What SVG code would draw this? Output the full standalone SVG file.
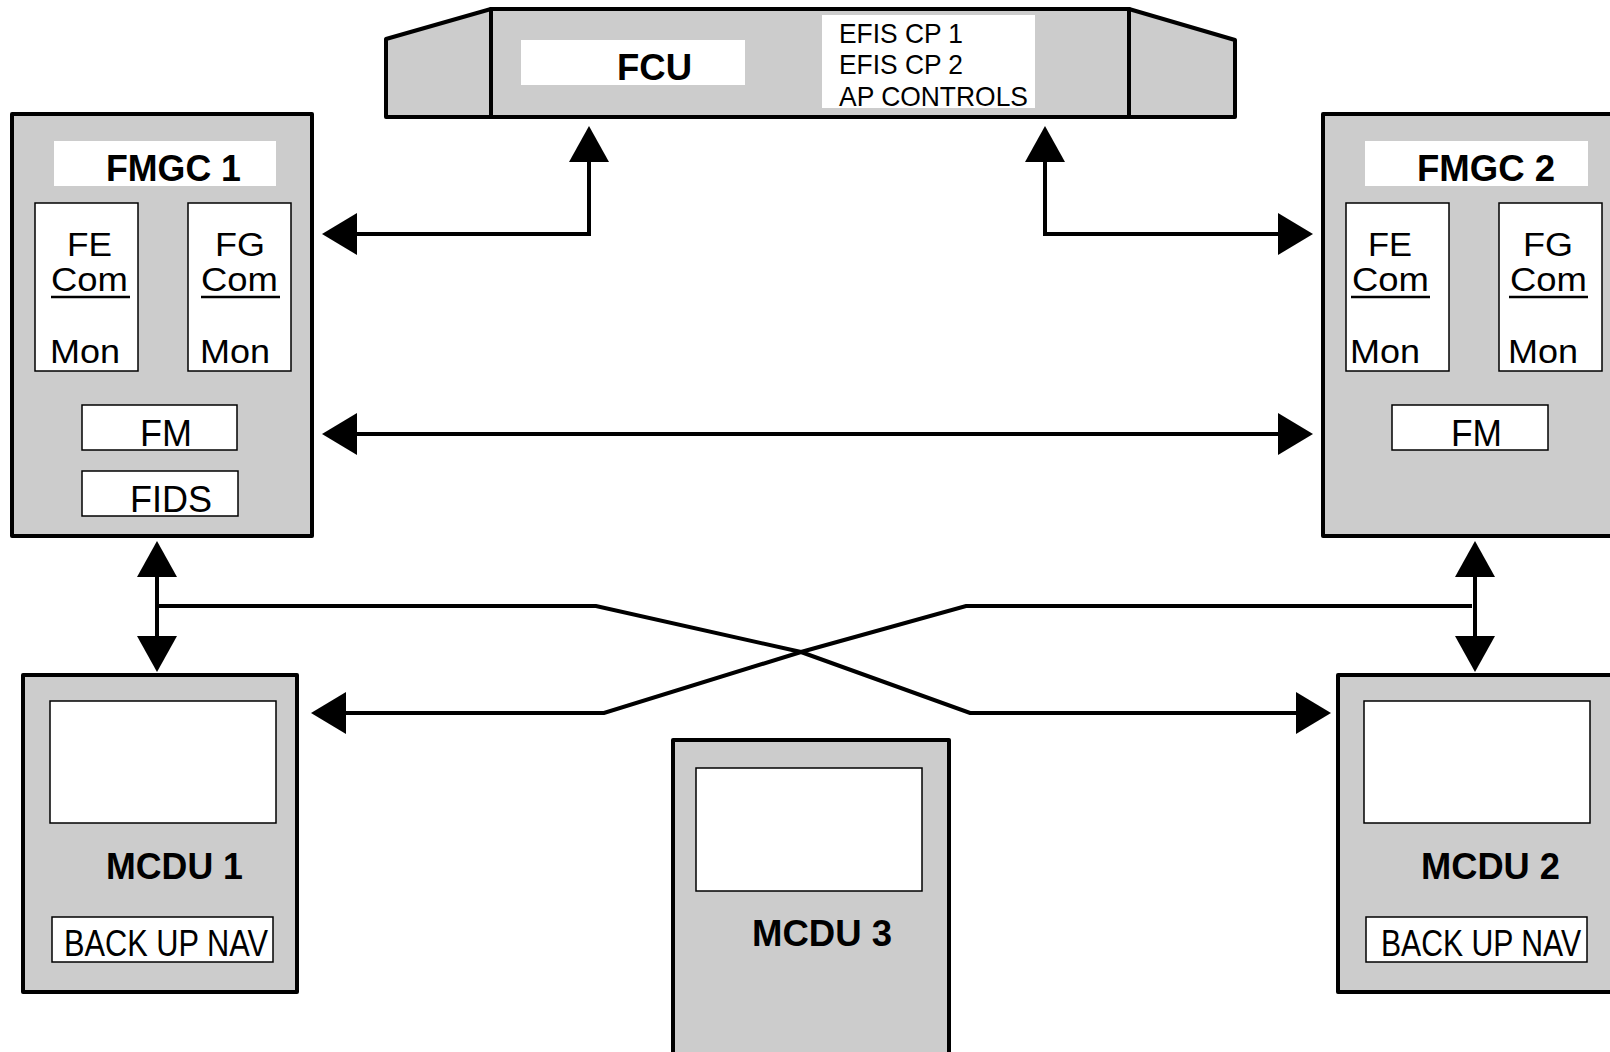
<svg xmlns="http://www.w3.org/2000/svg" width="1610" height="1052" viewBox="0 0 1610 1052">
<defs>
<style>
.unit{fill:#cccccc;stroke:#000;stroke-width:4;stroke-linejoin:round}
.wbox{fill:#fff;stroke:#000;stroke-width:1.5}
.lbl{fill:#fff;stroke:none}
.t{font-family:"Liberation Sans",Arial,sans-serif;fill:#000}
.b{font-weight:bold}
.s{font-size:34px}
.ul{stroke:#000;stroke-width:2.5}
.con{fill:none;stroke:#000;stroke-width:4;stroke-linejoin:miter}
.ah{fill:#000;stroke:none}
</style>
</defs>
<rect width="1610" height="1052" fill="#fff"/>

<g id="fcu">
<polygon class="unit" points="386,39 491,9 491,117 386,117"/>
<polygon class="unit" points="1129,9 1235,40 1235,117 1129,117"/>
<rect class="unit" x="491" y="9" width="638" height="108"/>
<rect class="lbl" x="521" y="40" width="224" height="45"/>
<text class="t b" x="617" y="80" font-size="36" textLength="75" lengthAdjust="spacingAndGlyphs">FCU</text>
<rect class="lbl" x="822" y="15" width="213" height="93"/>
<text class="t" x="839" y="43" font-size="28" textLength="124" lengthAdjust="spacingAndGlyphs">EFIS CP 1</text>
<text class="t" x="839" y="74" font-size="28" textLength="124" lengthAdjust="spacingAndGlyphs">EFIS CP 2</text>
<text class="t" x="839" y="106" font-size="28" textLength="189" lengthAdjust="spacingAndGlyphs">AP CONTROLS</text>
</g>

<g id="fmgc1">
<rect class="unit" x="12" y="114" width="300" height="422"/>
<rect class="lbl" x="54" y="141" width="222" height="45"/>
<text class="t b" x="106" y="181" font-size="36" textLength="135" lengthAdjust="spacingAndGlyphs">FMGC 1</text>
<rect class="wbox" x="35" y="203" width="103" height="168"/>
<text class="t s" x="67" y="256" textLength="45" lengthAdjust="spacingAndGlyphs">FE</text>
<text class="t s" x="51" y="291" textLength="77" lengthAdjust="spacingAndGlyphs">Com</text>
<line class="ul" x1="51" y1="297" x2="130" y2="297"/>
<text class="t s" x="50" y="363" textLength="70" lengthAdjust="spacingAndGlyphs">Mon</text>
<rect class="wbox" x="188" y="203" width="103" height="168"/>
<text class="t s" x="215" y="256" textLength="50" lengthAdjust="spacingAndGlyphs">FG</text>
<text class="t s" x="201" y="291" textLength="77" lengthAdjust="spacingAndGlyphs">Com</text>
<line class="ul" x1="201" y1="297" x2="280" y2="297"/>
<text class="t s" x="200" y="363" textLength="70" lengthAdjust="spacingAndGlyphs">Mon</text>
<rect class="wbox" x="82" y="405" width="155" height="45"/>
<text class="t" x="140" y="446" font-size="36" textLength="52" lengthAdjust="spacingAndGlyphs">FM</text>
<rect class="wbox" x="82" y="471" width="156" height="45"/>
<text class="t" x="130" y="512" font-size="36" textLength="82" lengthAdjust="spacingAndGlyphs">FIDS</text>
</g>

<g id="fmgc2">
<rect class="unit" x="1323" y="114" width="300" height="422"/>
<rect class="lbl" x="1365" y="141" width="223" height="45"/>
<text class="t b" x="1417" y="181" font-size="36" textLength="138" lengthAdjust="spacingAndGlyphs">FMGC 2</text>
<rect class="wbox" x="1346" y="203" width="103" height="168"/>
<text class="t s" x="1368" y="256" textLength="44" lengthAdjust="spacingAndGlyphs">FE</text>
<text class="t s" x="1352" y="291" textLength="77" lengthAdjust="spacingAndGlyphs">Com</text>
<line class="ul" x1="1351" y1="297" x2="1430" y2="297"/>
<text class="t s" x="1350" y="363" textLength="70" lengthAdjust="spacingAndGlyphs">Mon</text>
<rect class="wbox" x="1499" y="203" width="103" height="168"/>
<text class="t s" x="1523" y="256" textLength="50" lengthAdjust="spacingAndGlyphs">FG</text>
<text class="t s" x="1510" y="291" textLength="77" lengthAdjust="spacingAndGlyphs">Com</text>
<line class="ul" x1="1509" y1="297" x2="1588" y2="297"/>
<text class="t s" x="1508" y="363" textLength="70" lengthAdjust="spacingAndGlyphs">Mon</text>
<rect class="wbox" x="1392" y="405" width="156" height="45"/>
<text class="t" x="1451" y="446" font-size="36" textLength="51" lengthAdjust="spacingAndGlyphs">FM</text>
</g>

<g id="mcdu1">
<rect class="unit" x="23" y="675" width="274" height="317"/>
<rect class="wbox" x="50" y="701" width="226" height="122"/>
<text class="t b" x="106" y="879" font-size="36" textLength="137" lengthAdjust="spacingAndGlyphs">MCDU 1</text>
<rect class="wbox" x="52" y="917" width="221" height="45"/>
<text class="t" x="64" y="956" font-size="36" textLength="204" lengthAdjust="spacingAndGlyphs">BACK UP NAV</text>
</g>

<g id="mcdu2">
<rect class="unit" x="1338" y="675" width="290" height="317"/>
<rect class="wbox" x="1364" y="701" width="226" height="122"/>
<text class="t b" x="1421" y="879" font-size="36" textLength="139" lengthAdjust="spacingAndGlyphs">MCDU 2</text>
<rect class="wbox" x="1366" y="917" width="221" height="45"/>
<text class="t" x="1381" y="956" font-size="36" textLength="200" lengthAdjust="spacingAndGlyphs">BACK UP NAV</text>
</g>

<g id="mcdu3">
<rect class="unit" x="673" y="740" width="276" height="330"/>
<rect class="wbox" x="696" y="768" width="226" height="123"/>
<text class="t b" x="752" y="946" font-size="36" textLength="140" lengthAdjust="spacingAndGlyphs">MCDU 3</text>
</g>

<g id="connectors">
<path class="con" d="M 355 234 H 589 V 160"/>
<polygon class="ah" points="322,234 357,213 357,255"/>
<polygon class="ah" points="589,126 569,162 609,162"/>

<path class="con" d="M 1045 160 V 234 H 1280"/>
<polygon class="ah" points="1045,126 1025,162 1065,162"/>
<polygon class="ah" points="1313,234 1278,213 1278,255"/>

<line class="con" x1="355" y1="434" x2="1280" y2="434"/>
<polygon class="ah" points="322,434 357,413 357,455"/>
<polygon class="ah" points="1313,434 1278,413 1278,455"/>

<line class="con" x1="157" y1="575" x2="157" y2="638"/>
<polygon class="ah" points="157,541 137,577 177,577"/>
<polygon class="ah" points="157,672 137,636 177,636"/>

<line class="con" x1="1475" y1="575" x2="1475" y2="638"/>
<polygon class="ah" points="1475,541 1455,577 1495,577"/>
<polygon class="ah" points="1475,672 1455,636 1495,636"/>

<polyline class="con" points="157,606 596,606 801,652 970,713 1298,713"/>
<polygon class="ah" points="1331,713 1296,692 1296,734"/>

<polyline class="con" points="1472,606 966,606 801,652 604,713 344,713"/>
<polygon class="ah" points="311,713 346,692 346,734"/>
</g>
</svg>
